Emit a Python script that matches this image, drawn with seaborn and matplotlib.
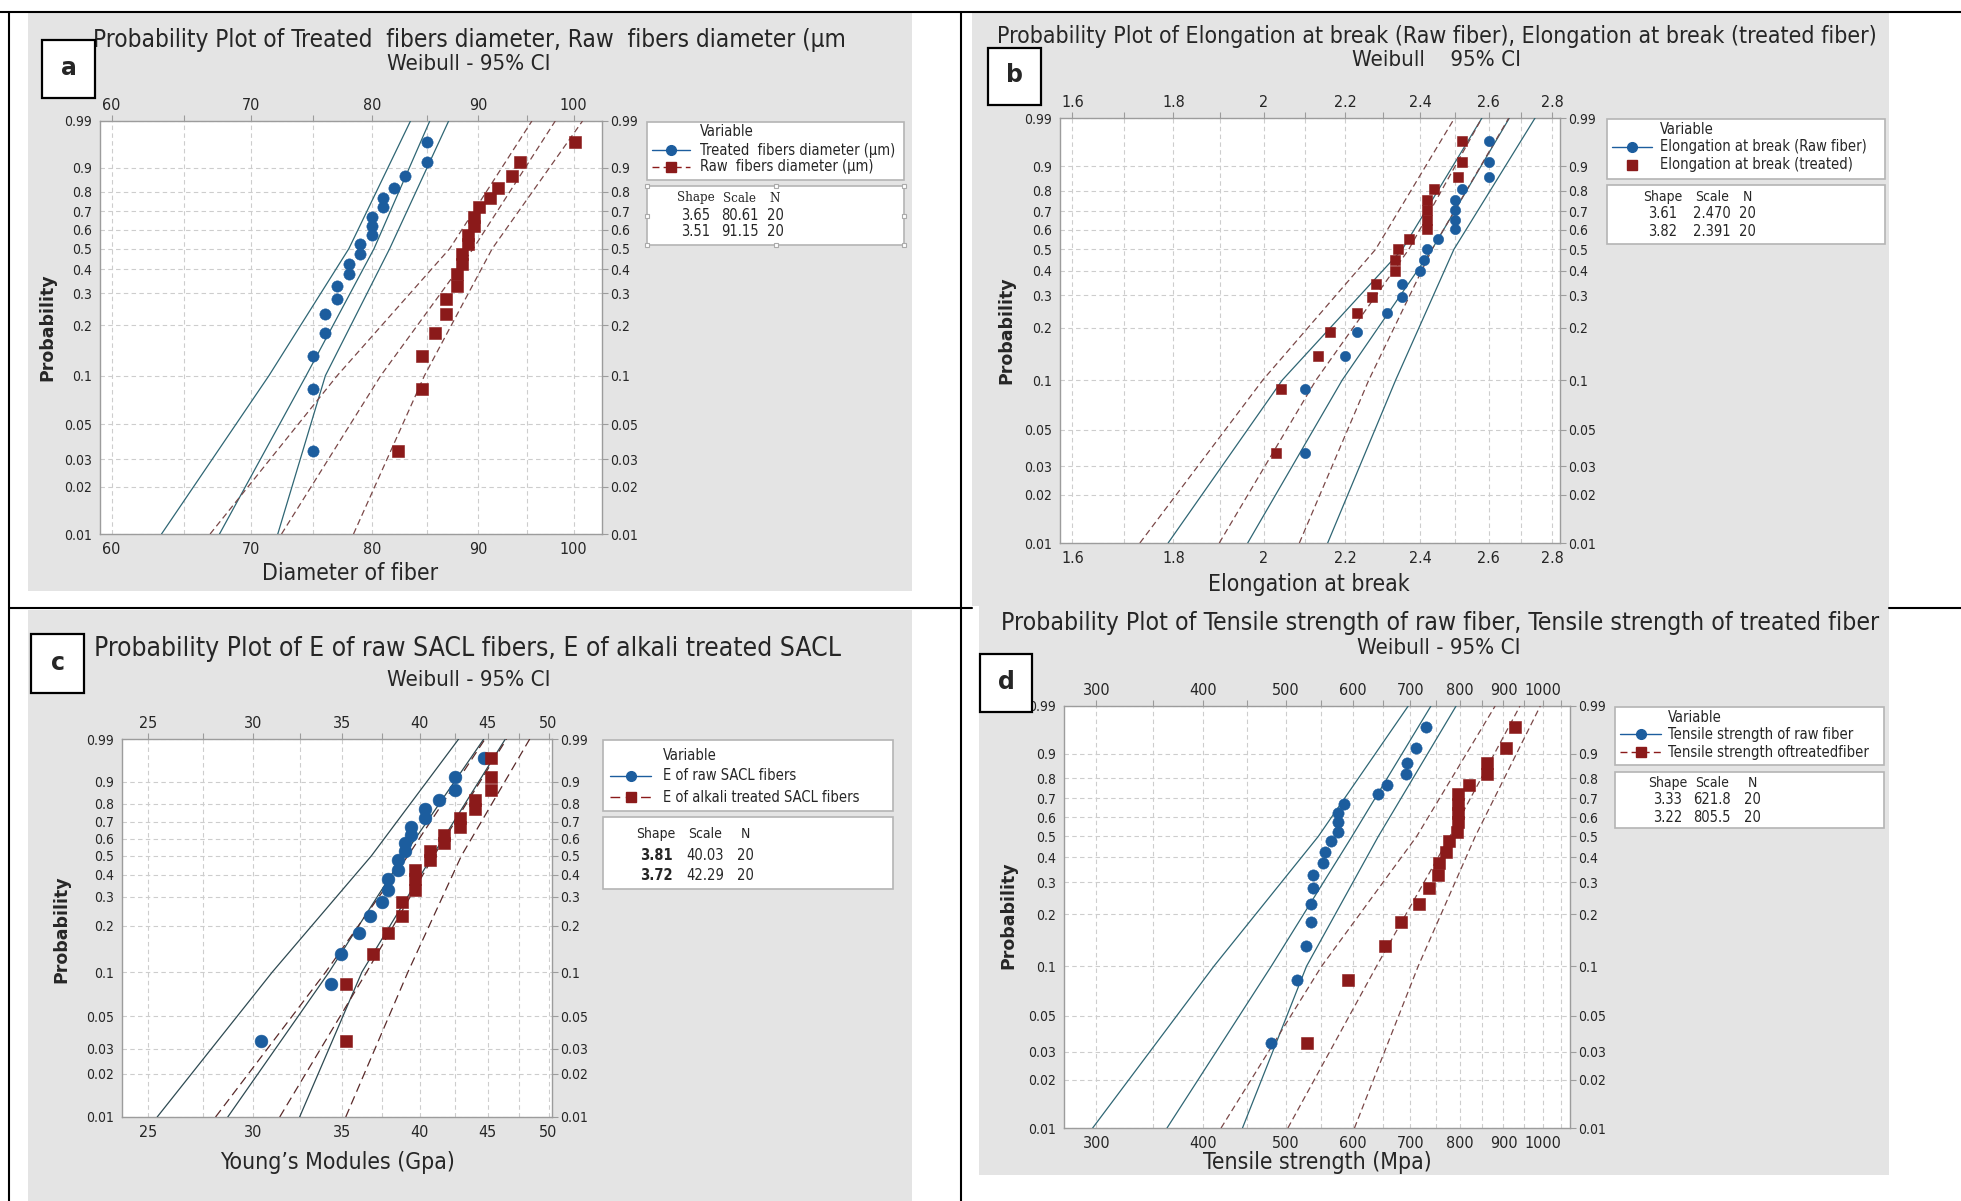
import numpy as np
import matplotlib
matplotlib.use("Agg")
import matplotlib.pyplot as plt
from matplotlib.patches import Rectangle
from matplotlib.lines import Line2D
from matplotlib.ticker import FixedLocator, FixedFormatter, NullFormatter, NullLocator
import seaborn as sns

# ---------------- data ----------------
prob_ticks = [0.01, 0.02, 0.03, 0.05, 0.1, 0.2, 0.3, 0.4, 0.5, 0.6, 0.7, 0.8, 0.9, 0.99]
prob_labels = ["0.01", "0.02", "0.03", "0.05", "0.1", "0.2", "0.3", "0.4", "0.5",
               "0.6", "0.7", "0.8", "0.9", "0.99"]

# plotting positions of the points (20 points / 19 points)
pp20 = [0.034, 0.083, 0.132, 0.181, 0.230, 0.279, 0.328, 0.377, 0.426, 0.475,
        0.525, 0.574, 0.623, 0.672, 0.721, 0.770, 0.819, 0.868, 0.917, 0.966]
pp19 = [0.036, 0.088, 0.139, 0.191, 0.242, 0.294, 0.345, 0.397, 0.448, 0.500,
        0.552, 0.603, 0.655, 0.706, 0.758, 0.809, 0.861, 0.912, 0.964]
# probabilities at which the fit / CI lines were read
line_p = [0.01, 0.1, 0.5, 0.99]

# (a) fibre diameter
a_treated = [75, 75, 75, 76, 76, 77, 77, 78, 78, 79, 79, 80, 80, 80, 81, 81, 82, 83, 85, 85]
a_raw = [82.4, 84.6, 84.6, 85.8, 86.8, 86.8, 87.9, 87.9, 88.4, 88.4, 89.0, 89.0,
         89.6, 89.6, 90.1, 91.2, 92.0, 93.4, 94.3, 100.2]
a_treated_lines = [[63.4, 71.4, 78.0, 83.5], [67.6, 74.4, 80.2, 85.3], [72.1, 76.0, 81.6, 87.1]]
a_raw_lines = [[66.9, 77.0, 87.2, 95.5], [72.4, 80.8, 89.5, 98.0], [78.4, 84.8, 91.4, 101.0]]

# (b) elongation at break
b_raw = [2.10, 2.10, 2.20, 2.23, 2.31, 2.35, 2.35, 2.40, 2.41, 2.42, 2.45, 2.50,
         2.50, 2.50, 2.50, 2.52, 2.60, 2.60, 2.60]
b_treated = [2.03, 2.04, 2.13, 2.16, 2.23, 2.27, 2.28, 2.33, 2.33, 2.34, 2.37, 2.42,
             2.42, 2.42, 2.42, 2.44, 2.51, 2.52, 2.52]
b_raw_lines = [[1.789, 2.044, 2.351, 2.580], [1.963, 2.192, 2.434, 2.664], [2.155, 2.333, 2.497, 2.745]]
b_treated_lines = [[1.731, 1.998, 2.279, 2.499], [1.899, 2.126, 2.369, 2.580], [2.085, 2.261, 2.434, 2.662]]

# (c) Young's modulus
c_raw = [30.4, 34.3, 34.9, 36.0, 36.7, 37.5, 37.9, 37.9, 38.5, 38.5, 39.0, 39.0,
         39.4, 39.4, 40.4, 40.4, 41.4, 42.5, 42.5, 44.7]
c_alkali = [35.2, 35.2, 36.9, 37.9, 38.8, 38.8, 39.7, 39.7, 39.7, 40.7, 40.7, 41.7,
            41.7, 42.9, 42.9, 44.0, 44.0, 45.3, 45.3, 45.3]
c_raw_lines = [[25.4, 31.0, 36.8, 42.8], [28.7, 34.2, 38.9, 44.7], [32.5, 36.2, 40.9, 46.4]]
c_alkali_lines = [[28.1, 34.0, 39.2, 44.8], [31.4, 36.5, 41.0, 46.5], [35.2, 39.2, 43.0, 48.4]]

# (d) tensile strength
d_raw = [481, 516, 528, 536, 536, 539, 539, 553, 556, 565, 576, 576, 576, 586,
         641, 658, 691, 693, 710, 730]
d_treated = [529, 592, 654, 682, 717, 737, 754, 756, 771, 776, 793, 796, 797, 797,
             797, 819, 860, 862, 906, 929]
d_raw_lines = [[297, 412, 546, 696], [363, 481, 598, 740], [445, 529, 642, 792]]
d_treated_lines = [[420, 551, 712, 880], [503, 639, 779, 941], [602, 715, 834, 994]]

# ---------------- style ----------------
sns.set_theme(style="white")
plt.rcParams["font.family"] = ["DejaVu Sans"]
plt.rcParams["font.stretch"] = "condensed"

BLUE = "#1c5d9e"
RED = "#8b1a1a"
BLUE_LINE = "#2f6674"
RED_LINE = "#7a4848"
GRID = "#cdcdcd"
SPINE = "#9c9c9c"
PANEL = "#e4e4e4"

W, H = 1961, 1201
fig = plt.figure(figsize=(W / 100, H / 100), dpi=100)
fig.patch.set_facecolor("white")


def fx(x):
    return x / W


def fy(y):
    return 1 - y / H


def ftext(x, y, s, **kw):
    kw.setdefault("ha", "center")
    kw.setdefault("va", "center")
    return fig.text(fx(x), fy(y), s, **kw)


def frect(x0, y0, x1, y1, **kw):
    r = Rectangle((fx(x0), fy(y1)), (x1 - x0) / W, (y1 - y0) / H,
                  transform=fig.transFigure, **kw)
    fig.add_artist(r)
    return r


def fline(xs, ys, **kw):
    ln = Line2D([fx(v) for v in xs], [fy(v) for v in ys], transform=fig.transFigure, **kw)
    fig.add_artist(ln)
    return ln


def weib(p):
    p = np.clip(np.asarray(p, dtype=float), 1e-9, 1 - 1e-9)
    return np.log(-np.log(1 - p))


def weib_inv(w):
    return 1 - np.exp(-np.exp(np.asarray(w, dtype=float)))


# ---------------- table frame and panel backgrounds ----------------
frect(28, 13, 912, 591, facecolor=PANEL, edgecolor="none", zorder=-2)
frect(972, 13, 1889, 606, facecolor=PANEL, edgecolor="none", zorder=-2)
frect(28, 610, 912, 1201, facecolor=PANEL, edgecolor="none", zorder=-2)
frect(979, 606, 1889, 1175, facecolor=PANEL, edgecolor="none", zorder=-2)

LW_TABLE = 1.5
fline([0, W], [12, 12], color="black", lw=LW_TABLE, zorder=-1)
fline([9, 9], [12, H], color="black", lw=LW_TABLE, zorder=-1)
fline([961, 961], [12, H], color="black", lw=LW_TABLE, zorder=-1)
fline([9, 972], [608, 608], color="black", lw=LW_TABLE, zorder=-1)
fline([1889, W], [608, 608], color="black", lw=LW_TABLE, zorder=-1)


def make_panel(box, xlim, major, labels, minor, series, msize):
    x0, y0, x1, y1 = box
    ax = fig.add_axes([fx(x0), fy(y1), (x1 - x0) / W, (y1 - y0) / H])
    ax.set_facecolor("white")
    for vals, pp, lines, color, lcolor, marker, ls in series:
        for xs in lines:
            sns.lineplot(x=xs, y=line_p, ax=ax, color=lcolor, linewidth=0.9,
                         linestyle=ls, legend=False, zorder=3)
    for vals, pp, lines, color, lcolor, marker, ls in series:
        sns.scatterplot(x=vals, y=pp, ax=ax, color=color, marker=marker, s=msize,
                        edgecolor=color, linewidth=0.4, legend=False, zorder=5)
    ax.set_xscale("log")
    ax.set_yscale("function", functions=(weib, weib_inv))
    ax.set_xlim(*xlim)
    ax.set_ylim(0.01, 0.99)
    ax.xaxis.set_major_locator(FixedLocator(major))
    ax.xaxis.set_major_formatter(FixedFormatter(labels))
    ax.xaxis.set_minor_locator(FixedLocator(minor))
    ax.xaxis.set_minor_formatter(NullFormatter())
    ax.yaxis.set_major_locator(FixedLocator(prob_ticks))
    ax.yaxis.set_major_formatter(FixedFormatter(prob_labels))
    ax.yaxis.set_minor_locator(NullLocator())
    ax.set_axisbelow(True)
    ax.grid(True, axis="x", which="both", color=GRID, linestyle=(0, (4, 3)), linewidth=0.8)
    ax.grid(True, axis="y", which="major", color=GRID, linestyle=(0, (4, 3)), linewidth=0.8)
    ax.tick_params(axis="both", which="both", direction="out", length=4, width=0.8,
                   color=SPINE, top=True, right=True, labeltop=True, labelright=True,
                   pad=2)
    ax.tick_params(axis="x", labelsize=11.5)
    ax.tick_params(axis="y", labelsize=10)
    for sp in ax.spines.values():
        sp.set_color(SPINE)
        sp.set_linewidth(1.0)
    ax.set_xlabel("")
    ax.set_ylabel("")
    return ax


def var_box(box, header_xy, entries, text_x):
    x0, y0, x1, y1 = box
    frect(x0, y0, x1, y1, facecolor="white", edgecolor="#b4b4b4", lw=1.2, zorder=2)
    ftext(header_xy[0], header_xy[1], "Variable", ha="left", fontsize=10.5, zorder=3)
    for (y, label, color, marker, ls, hx0, hx1) in entries:
        if ls is not None:
            fline([hx0, hx1], [y, y], color=color, lw=1.0, linestyle=ls, zorder=3)
        fline([(hx0 + hx1) / 2], [y], color=color, marker=marker, markersize=7,
              linestyle="none", zorder=4)
        ftext(text_x, y, label, ha="left", fontsize=10.5, zorder=3)


def stats_box(box, header_y, rows_y, cols, rows, serif_header=False, bold_shape=False,
              handles=False):
    x0, y0, x1, y1 = box
    frect(x0, y0, x1, y1, facecolor="white", edgecolor="#b4b4b4", lw=1.2, zorder=2)
    if serif_header:
        hkw = dict(family=["DejaVu Serif"], fontsize=9.5)
    else:
        hkw = dict(family=["DejaVu Sans"], fontsize=10)
    for cx, h in zip(cols, ["Shape", "Scale", "N"]):
        ftext(cx, header_y, h, zorder=3, **hkw)
    for ry, row in zip(rows_y, rows):
        for i, (cx, v) in enumerate(zip(cols, row)):
            ftext(cx, ry, v, fontsize=10.5, zorder=3,
                  fontweight="bold" if (bold_shape and i == 0) else "normal")
    if handles:
        xm, ym = (x0 + x1) / 2, (y0 + y1) / 2
        for hx, hy in [(x0, y0), (xm, y0), (x1, y0), (x0, ym), (x1, ym),
                       (x0, y1), (xm, y1), (x1, y1)]:
            fline([hx], [hy], marker="s", markersize=3.5, markerfacecolor="white",
                  markeredgecolor="#aaaaaa", markeredgewidth=0.8, linestyle="none", zorder=4)


def label_box(x0, y0, x1, y1, letter):
    frect(x0, y0, x1, y1, facecolor="white", edgecolor="black", lw=1.6, zorder=6)
    ftext((x0 + x1) / 2, (y0 + y1) / 2 - 1, letter, fontsize=17, fontweight="bold",
          fontstretch="normal", zorder=7)


DASH = (0, (5, 3))
LONGDASH = (0, (7, 4))

# ---------------- panel a ----------------
make_panel((100, 121, 602, 534), (59.23, 103.2),
           [60, 70, 80, 90, 100], ["60", "70", "80", "90", "100"],
           [65, 75, 85, 95],
           [(a_treated, pp20, a_treated_lines, BLUE, BLUE_LINE, "o", "-"),
            (a_raw, pp20, a_raw_lines, RED, RED_LINE, "s", DASH)], 66)
ftext(469, 40, "Probability Plot of Treated  fibers diameter, Raw  fibers diameter (\u00b5m",
      fontsize=17.5)
ftext(469, 64, "Weibull - 95% CI", fontsize=16)
ftext(350, 574, "Diameter of fiber", fontsize=16.5)
ftext(47, 327, "Probability", fontsize=12.5, fontweight="bold", rotation=90,
      fontstretch="normal")
var_box((647, 122, 904, 180), (700, 132),
        [(150, "Treated  fibers diameter (\u00b5m)", BLUE, "o", "-", 652, 690),
         (167, "Raw  fibers diameter (\u00b5m)", RED, "s", DASH, 652, 690)], 700)
stats_box((647, 186, 904, 245), 198, [215, 232], [696, 740, 775],
          [["3.65", "80.61", "20"], ["3.51", "91.15", "20"]],
          serif_header=True, handles=True)
label_box(42, 40, 95, 98, "a")

# ---------------- panel b ----------------
make_panel((1060, 118, 1560, 543), (1.577, 2.826),
           [1.6, 1.8, 2.0, 2.2, 2.4, 2.6, 2.8], ["1.6", "1.8", "2", "2.2", "2.4", "2.6", "2.8"],
           [1.7, 1.9, 2.1, 2.3, 2.5, 2.7],
           [(b_raw, pp19, b_raw_lines, BLUE, BLUE_LINE, "o", "-"),
            (b_treated, pp19, b_treated_lines, RED, RED_LINE, "s", DASH)], 55)
ftext(1437, 37, "Probability Plot of Elongation at break (Raw fiber), Elongation at break (treated fiber)",
      fontsize=16.6)
ftext(1436, 60, "Weibull    95% CI", fontsize=16)
ftext(1309, 584, "Elongation at break", fontsize=16.5)
ftext(1006, 330, "Probability", fontsize=12.5, fontweight="bold", rotation=90,
      fontstretch="normal")
var_box((1607, 119, 1885, 179), (1660, 129),
        [(147, "Elongation at break (Raw fiber)", BLUE, "o", "-", 1612, 1652),
         (165, "Elongation at break (treated)", RED, "s", None, 1612, 1652)], 1660)
stats_box((1607, 185, 1885, 244), 197, [214, 232], [1663, 1712, 1747],
          [["3.61", "2.470", "20"], ["3.82", "2.391", "20"]])
label_box(988, 48, 1041, 105, "b")

# ---------------- panel c ----------------
make_panel((122, 739, 552, 1117), (23.9, 50.3),
           [25, 30, 35, 40, 45, 50], ["25", "30", "35", "40", "45", "50"],
           [27.5, 32.5, 37.5, 42.5, 47.5],
           [(c_raw, pp20, c_raw_lines, BLUE, "#2e4a52", "o", "-"),
            (c_alkali, pp20, c_alkali_lines, RED, "#5a2a2a", "s", LONGDASH)], 85)
ftext(467, 649, "Probability Plot of E of raw SACL fibers, E of alkali treated SACL",
      fontsize=19)
ftext(469, 680, "Weibull - 95% CI", fontsize=16)
ftext(337, 1163, "Young\u2019s Modules (Gpa)", fontsize=16.5)
ftext(61, 929, "Probability", fontsize=12.5, fontweight="bold", rotation=90,
      fontstretch="normal")
var_box((603, 740, 893, 811), (663, 756),
        [(776, "E of raw SACL fibers", BLUE, "o", "-", 610, 651),
         (797, "E of alkali treated SACL fibers", RED, "s", LONGDASH, 610, 651)], 663)
stats_box((603, 817, 893, 889), 834, [855, 875], [656, 705, 745],
          [["3.81", "40.03", "20"], ["3.72", "42.29", "20"]], bold_shape=True)
label_box(31, 634, 84, 693, "c")

# ---------------- panel d ----------------
make_panel((1064, 706, 1570, 1128), (274.9, 1077),
           [300, 400, 500, 600, 700, 800, 900, 1000],
           ["300", "400", "500", "600", "700", "800", "900", "1000"],
           [350, 450, 550, 650, 750, 850, 950, 1050],
           [(d_raw, pp20, d_raw_lines, BLUE, BLUE_LINE, "o", "-"),
            (d_treated, pp20, d_treated_lines, RED, RED_LINE, "s", DASH)], 66)
ftext(1440, 623, "Probability Plot of Tensile strength of raw fiber, Tensile strength of treated fiber",
      fontsize=17.8)
ftext(1439, 648, "Weibull - 95% CI", fontsize=16)
ftext(1317, 1163, "Tensile strength (Mpa)", fontsize=16.5)
ftext(1008, 915, "Probability", fontsize=12.5, fontweight="bold", rotation=90,
      fontstretch="normal")
var_box((1615, 707, 1884, 765), (1668, 717),
        [(734, "Tensile strength of raw fiber", BLUE, "o", "-", 1620, 1661),
         (752, "Tensile strength oftreatedfiber", RED, "s", DASH, 1620, 1661)], 1668)
stats_box((1615, 772, 1884, 828), 783, [799, 818], [1668, 1712, 1752],
          [["3.33", "621.8", "20"], ["3.22", "805.5", "20"]])
label_box(980, 654, 1032, 712, "d")

fig.savefig("out.png", dpi=100, facecolor="white")
